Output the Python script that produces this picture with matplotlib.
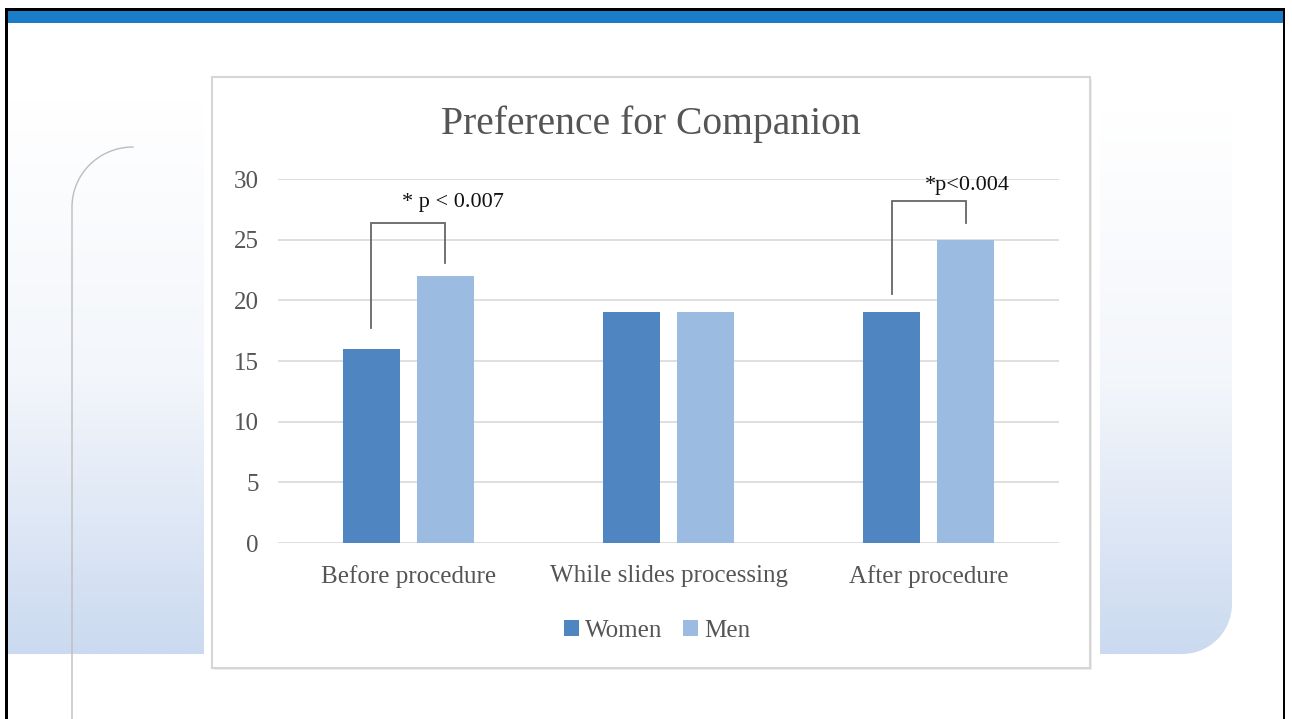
import numpy as np
import matplotlib
matplotlib.use("Agg")
import matplotlib.pyplot as plt
from matplotlib.patches import Rectangle, Polygon, Patch
from matplotlib.colors import LinearSegmentedColormap

# ---- data ----
categories = ["Before procedure", "While slides processing", "After procedure"]
women = [16, 19, 19]
men = [22, 19, 25]
series_names = ["Women", "Men"]
yticks = [0, 5, 10, 15, 20, 25, 30]
title = "Preference for Companion"
annot_texts = ["* p < 0.007", "*p<0.004"]
annot_cats = [0, 2]
# bracket heights (left foot, top, right foot)
brackets = [(17.7, 26.4, 23.1), (20.5, 28.2, 26.4)]
annot_y = [28.1, 29.5]

W, H = 1292, 719
fig = plt.figure(figsize=(W / 100, H / 100), dpi=100)
fig.patch.set_facecolor("white")

# ---- slide background ----
bg = fig.add_axes([0, 0, 1, 1], zorder=0)
bg.set_xlim(0, W)
bg.set_ylim(H, 0)
bg.axis("off")

cmap = LinearSegmentedColormap.from_list("g", ["#ffffff", "#f3f6fb", "#cbdaf0"])
grad = np.linspace(0, 1, 256).reshape(-1, 1)
bg.imshow(grad, extent=(7, 204, 654, 100), aspect="auto", cmap=cmap, zorder=1)

r = 50
t = np.linspace(0, np.pi / 2, 30)
arc = np.column_stack([1232 - r + r * np.cos(t), 654 - r + r * np.sin(t)])
verts = np.vstack([[[1100, 110], [1232, 110]], arc, [[1100, 654]]])
poly = Polygon(verts, closed=True, transform=bg.transData)
im2 = bg.imshow(grad, extent=(1100, 1232, 654, 110), aspect="auto", cmap=cmap, zorder=1)
im2.set_clip_path(poly)

# thin curved line
ta = np.linspace(np.pi, 1.5 * np.pi, 40)
cx, cy = 133, 207
xs = np.concatenate([[72], cx + 61 * np.cos(ta)])
ys = np.concatenate([[H], cy + 60 * np.sin(ta)])
bg.plot(xs, ys, color="#bdbdbd", lw=1.0, zorder=2)

# chart box
bg.add_patch(Rectangle((214, 79), 878, 591, facecolor="#ececec", edgecolor="none", zorder=3))
bg.add_patch(Rectangle((212, 77), 878, 591, facecolor="white", edgecolor="#d6d6d6", lw=1.5, zorder=4))

# header bar and frame
bg.add_patch(Rectangle((7, 10), 1276, 12.5, facecolor="#1b7dc8", edgecolor="none", zorder=5))
bg.add_patch(Rectangle((5, 8), 1280, 2.5, facecolor="black", edgecolor="none", zorder=6))
bg.add_patch(Rectangle((5, 8), 2.5, H, facecolor="black", edgecolor="none", zorder=6))
bg.add_patch(Rectangle((1282.5, 8), 2.5, H, facecolor="black", edgecolor="none", zorder=6))

# ---- chart ----
serif = ["Liberation Serif", "DejaVu Serif"]
grey = "#555555"
c_women = "#4f86c1"
c_men = "#9cbbe1"

ax = fig.add_axes([278 / W, (H - 543) / H, 781 / W, 364 / H], zorder=2)
ax.set_facecolor("none")
x = np.arange(len(categories))
off = 0.142
bw = 0.219
ax.bar(x - off, women, bw, color=c_women, zorder=3)
ax.bar(x + off, men, bw, color=c_men, zorder=3)

ax.set_xlim(-0.5, 2.5)
ax.set_ylim(0, 30)
ax.set_yticks(yticks)
ax.set_xticks(x)
ax.set_xticklabels(categories)
for s in ax.spines.values():
    s.set_visible(False)
ax.yaxis.grid(True, color="#d9d9d9", lw=1.2, zorder=0)
ax.set_axisbelow(True)
ax.tick_params(axis="both", length=0, labelsize=18, labelcolor=grey)
ax.tick_params(axis="y", pad=14)
ax.tick_params(axis="x", pad=16)
for lab in ax.get_xticklabels() + ax.get_yticklabels():
    lab.set_family(serif)

# brackets
for ci, (yl, yt, yr) in zip(annot_cats, brackets):
    ax.plot([ci - off, ci - off, ci + off, ci + off], [yl, yt, yt, yr],
            color="#666666", lw=1.3, zorder=4, solid_joinstyle="miter")
for ci, txt, ty, dx in zip(annot_cats, annot_texts, annot_y, [0.172, 0.15]):
    ax.text(ci + dx, ty, txt, ha="center", va="center", fontsize=16,
            family=serif, color="#111111", zorder=5)

fig.text(651 / W, 1 - 124 / H, title, ha="center", va="center",
         fontsize=28.5, family=serif, color=grey)

handles = [Patch(facecolor=c_women), Patch(facecolor=c_men)]
leg = fig.legend(handles, series_names, loc="center",
                 bbox_to_anchor=(657 / W, 1 - 631 / H), ncol=2, frameon=False,
                 prop={"family": serif, "size": 18}, labelcolor=grey,
                 handlelength=0.6, handleheight=0.6, handletextpad=0.25,
                 columnspacing=0.8)

fig.savefig("out.png", dpi=100)
